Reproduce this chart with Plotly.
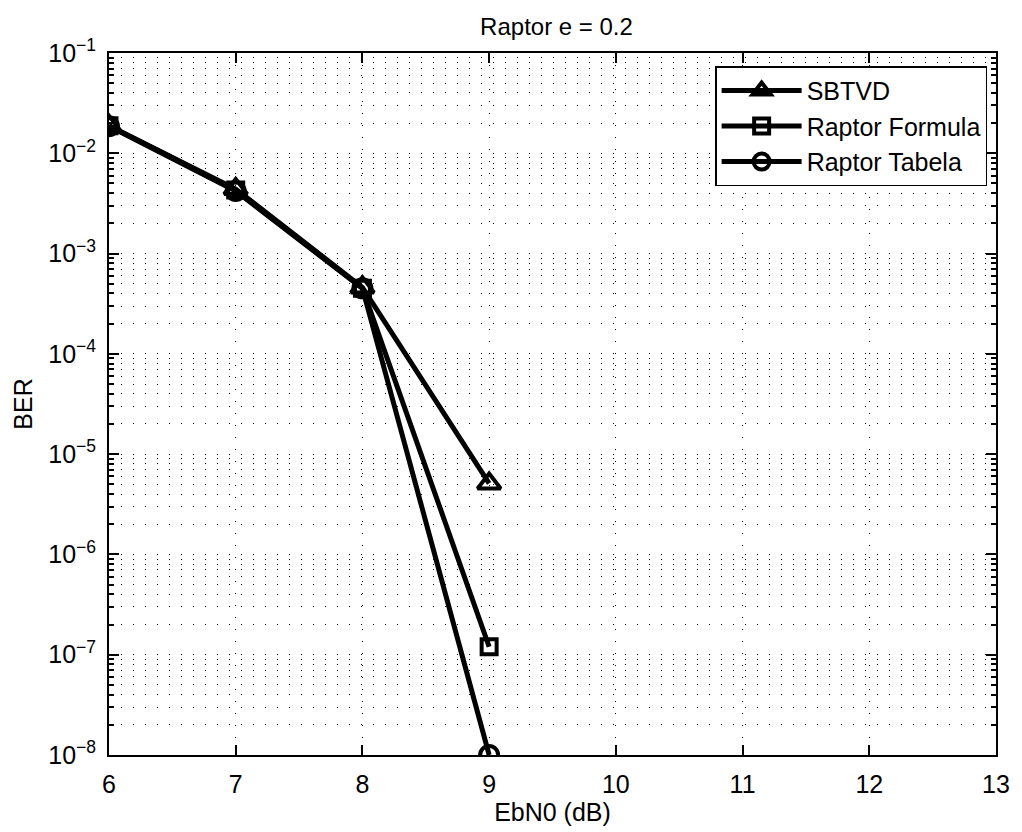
import plotly.graph_objects as go

ebn0 = [6, 7, 8, 9]
ber_sbtvd = [0.0188, 0.0044, 0.00046, 5.1e-6]
ber_formula = [0.0188, 0.0043, 0.00045, 1.2e-7]
ber_tabela = [0.0186, 0.0042, 0.00045, 1.0e-8]
series_names = ["SBTVD", "Raptor Formula", "Raptor Tabela"]
symbols = ["triangle-up-open", "square-open", "circle-open"]
sizes = [20, 15, 18]

y_exponents = list(range(-8, 0))
y_tickvals = [10.0 ** e for e in y_exponents]
y_ticktext = ["10<sup>\u2212%d</sup>" % (-e) for e in y_exponents]
y_minor = [m * 10.0 ** e for e in range(-8, -1) for m in range(2, 10)]

FONT = "Liberation Sans, Arial, Helvetica, sans-serif"

fig = go.Figure()
for name, ys, sym, sz in zip(series_names, [ber_sbtvd, ber_formula, ber_tabela], symbols, sizes):
    fig.add_trace(go.Scatter(
        x=ebn0, y=ys, name=name, mode="lines+markers",
        line=dict(color="black", width=5),
        marker=dict(symbol=sym, size=sz, color="black", line=dict(color="black", width=4)),
    ))

dotgrid = "1px,11px"
fig.update_layout(
    width=1022, height=832,
    margin=dict(l=109, r=18, t=53, b=73),
    paper_bgcolor="white", plot_bgcolor="white",
    font=dict(family=FONT, size=24, color="black"),
    title=dict(text="Raptor e = 0.2", x=(109 + 1004) / 2 / 1022, xanchor="center",
               y=1 - 27 / 832, yanchor="middle", font=dict(size=24)),
    showlegend=True,
    legend=dict(x=0.99, y=0.981, xanchor="right", yanchor="top",
                bgcolor="white", bordercolor="black", borderwidth=1.5,
                font=dict(size=25), itemwidth=80, tracegroupgap=0),
)
fig.update_xaxes(
    range=[6, 13], dtick=1, tick0=6,
    showline=True, linecolor="black", linewidth=2, mirror="allticks",
    ticks="inside", ticklen=10, tickwidth=1.5, tickcolor="black",
    showgrid=True, gridcolor="black", gridwidth=1, griddash=dotgrid,
    zeroline=False, ticklabelstandoff=6,
    title=dict(text="EbN0 (dB)", standoff=4, font=dict(size=25)),
    tickfont=dict(size=25),
)
fig.update_yaxes(
    type="log", range=[-8, -1],
    tickmode="array", tickvals=y_tickvals, ticktext=y_ticktext,
    showline=True, linecolor="black", linewidth=2, mirror="allticks",
    ticks="inside", ticklen=10, tickwidth=1.5, tickcolor="black",
    showgrid=True, gridcolor="black", gridwidth=1, griddash=dotgrid,
    minor=dict(tickmode="array", tickvals=y_minor, ticks="inside", ticklen=5,
               tickcolor="black", tickwidth=1.5, showgrid=True,
               gridcolor="black", gridwidth=1, griddash=dotgrid),
    zeroline=False, ticklabelstandoff=6,
    title=dict(text="BER", standoff=8, font=dict(size=25)),
    tickfont=dict(size=25),
)

fig.write_html("out.html")
